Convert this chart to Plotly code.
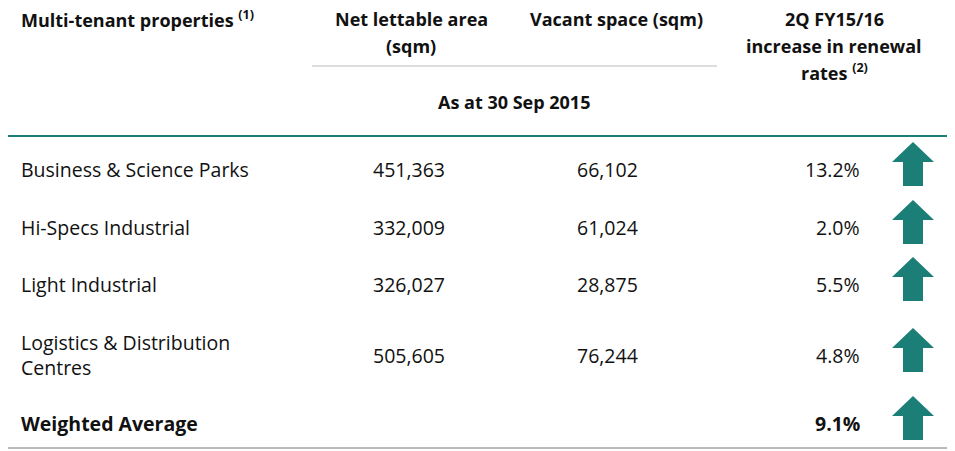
import plotly.graph_objects as go

categories = ["Business & Science Parks", "Hi-Specs Industrial", "Light Industrial",
              "Logistics & Distribution<br>Centres", "<b>Weighted Average</b>"]
net_lettable = ["451,363", "332,009", "326,027", "505,605", ""]
vacant = ["66,102", "61,024", "28,875", "76,244", ""]
renewal = ["13.2%", "2.0%", "5.5%", "4.8%", "<b>9.1%</b>"]
row_y = [170, 228, 285, 356, 424]

TEAL = "#1b7f78"
FONT = "Open Sans"
OFF = 9
fig = go.Figure()
fig.add_trace(go.Scatter(x=[OFF, 955 + OFF], y=[OFF, 451 + OFF], mode="markers",
                         marker=dict(opacity=0), hoverinfo="skip"))

ann = []
def t(x, y, s, anchor="left", size=19.5, bold=False):
    ann.append(dict(x=x, y=y, xref="x", yref="y", text=f"<b>{s}</b>" if bold else s,
                    showarrow=False, xanchor=anchor, yanchor="middle", align=anchor,
                    font=dict(family=FONT, size=size, color="#111")))

t(20, 20, "Multi-tenant properties <sup>(1)</sup>", bold=True, size=18)
t(412, 20, "Net lettable area", "center", 18, True)
t(412, 47, "(sqm)", "center", 18, True)
t(617, 20, "Vacant space (sqm)", "center", 18, True)
t(835, 20, "2Q FY15/16", "center", 18, True)
t(835, 47, "increase in renewal", "center", 18, True)
t(835, 73, "rates <sup>(2)</sup>", "center", 18, True)
t(515, 103, "As at 30 Sep 2015", "center", 18, True)

shapes = [
    dict(type="line", x0=313, x1=718, y0=67, y1=67, xref="x", yref="y", line=dict(color="#bbbbbb", width=1)),
    dict(type="line", x0=8, x1=950, y0=137, y1=137, xref="x", yref="y", line=dict(color=TEAL, width=2)),
    dict(type="line", x0=8, x1=950, y0=449, y1=449, xref="x", yref="y", line=dict(color="#777", width=1)),
]

for c, n, v, r, y in zip(categories, net_lettable, vacant, renewal, row_y):
    t(20, y, c)
    t(410, y, n, "center")
    t(608, y, v, "center")
    t(863, y, r, "right")
    cx, top, bot = 914, y - 27, y + 17
    path = (f"M {cx} {top} L {cx+21} {top+20} L {cx+10} {top+20} L {cx+10} {bot} "
            f"L {cx-10} {bot} L {cx-10} {top+20} L {cx-21} {top+20} Z")
    shapes.append(dict(type="path", path=path, xref="x", yref="y", fillcolor=TEAL, line=dict(width=0)))

fig.update_layout(width=955, height=451, margin=dict(l=0, r=0, t=0, b=0),
                  paper_bgcolor="white", plot_bgcolor="white", showlegend=False,
                  xaxis=dict(range=[OFF, 955 + OFF], visible=False, fixedrange=True),
                  yaxis=dict(range=[451 + OFF, OFF], visible=False, fixedrange=True),
                  annotations=ann, shapes=shapes)
fig.write_html("out.html")
